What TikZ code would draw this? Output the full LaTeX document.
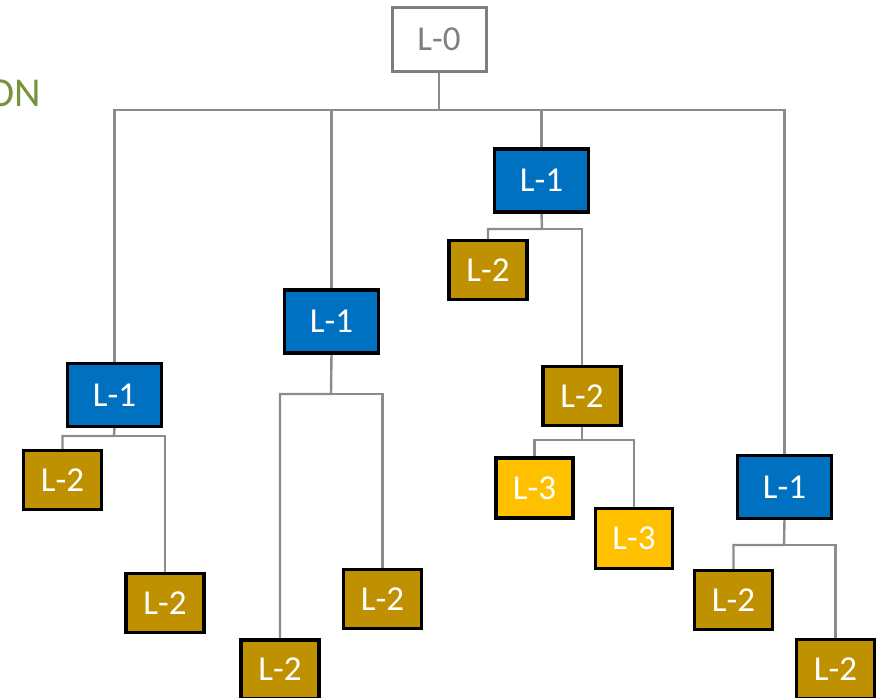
\documentclass[tikz,border=0pt]{standalone}
\usepackage{fontspec}
\setmainfont{Carlito}
\definecolor{lvlblue}{HTML}{0070C0}
\definecolor{lvlgold}{HTML}{BF9000}
\definecolor{lvlyellow}{HTML}{FFC000}
\definecolor{linegray}{HTML}{8C8C8C}
\definecolor{rootgray}{HTML}{7F7F7F}
\definecolor{olivegreen}{HTML}{77933C}
\begin{document}
\begin{tikzpicture}[x=1pt,y=-1pt,
  box/.style={draw=black, line width=2.2pt, minimum width=#1, inner sep=0pt,
              font=\fontsize{35}{35}\selectfont, text=white},
  lone/.style={box=93pt, minimum height=62pt, fill=lvlblue},
  ltwo/.style={box=77pt, minimum height=58pt, fill=lvlgold},
  lthree/.style={box=76pt, minimum height=59pt, fill=lvlyellow},
  lroot/.style={draw=rootgray, line width=2pt, fill=white, minimum width=93pt,
                minimum height=63pt, text=rootgray, font=\fontsize{35}{35}\selectfont},
  conn/.style={draw=linegray, line width=2.4pt}]
\useasboundingbox (0,0) rectangle (887,698);

% partial heading at the left edge
\node[anchor=east, text=olivegreen, font=\fontsize{41}{41}\selectfont, inner sep=0pt] (head) at (41,93) {ON};

% junction points of the tree
\coordinate (j0) at (439,110);
\coordinate (ja) at (114,436);
\coordinate (jb) at (331,394);
\coordinate (jc) at (542,229);
\coordinate (jc2) at (582,440);
\coordinate (jd) at (784,545);

% boxes
\node[lroot] (L0) at (439,39.5) {L-0};

\node[lone] (A) at (114.5,395) {L-1};
\node[lone] (B) at (331.5,321.5) {L-1};
\node[lone] (C) at (541.5,180.5) {L-1};
\node[lone] (D) at (784.5,487) {L-1};

\node[ltwo] (A1) at (62.5,480) {L-2};
\node[ltwo] (A2) at (165,603) {L-2};
\node[ltwo] (B1) at (280,669.5) {L-2};
\node[ltwo] (B2) at (382.5,599) {L-2};
\node[ltwo] (C1) at (488,270) {L-2};
\node[ltwo] (C2) at (582,396) {L-2};
\node[ltwo] (D1) at (733.5,600) {L-2};
\node[ltwo] (D2) at (835.5,669) {L-2};

\node[lthree] (E1) at (534.5,488) {L-3};
\node[lthree] (E2) at (634,538.5) {L-3};

% tree connectors
\draw[conn] (L0.south) -- (j0) -| (A.north);
\draw[conn] (j0) -| (B.north);
\draw[conn] (j0) -| (C.north);
\draw[conn] (j0) -| (D.north);

\draw[conn] (A.south) -- (ja) -| (A1.north);
\draw[conn] (ja) -| (A2.north);
\draw[conn] (B.south) -- (jb) -| (B1.north);
\draw[conn] (jb) -| (B2.north);
\draw[conn] (C.south) -- (jc) -| (C1.north);
\draw[conn] (jc) -| (C2.north);
\draw[conn] (C2.south) -- (jc2) -| (E1.north);
\draw[conn] (jc2) -| (E2.north);
\draw[conn] (D.south) -- (jd) -| (D1.north);
\draw[conn] (jd) -| (D2.north);

% redraw box outlines over connector ends
\foreach \n in {A,B,C,D,A1,A2,B1,B2,C1,C2,D1,D2,E1,E2}
  \draw[black, line width=2.2pt] (\n.north west) rectangle (\n.south east);
\draw[rootgray, line width=2pt] (L0.north west) rectangle (L0.south east);
\end{tikzpicture}
\end{document}
